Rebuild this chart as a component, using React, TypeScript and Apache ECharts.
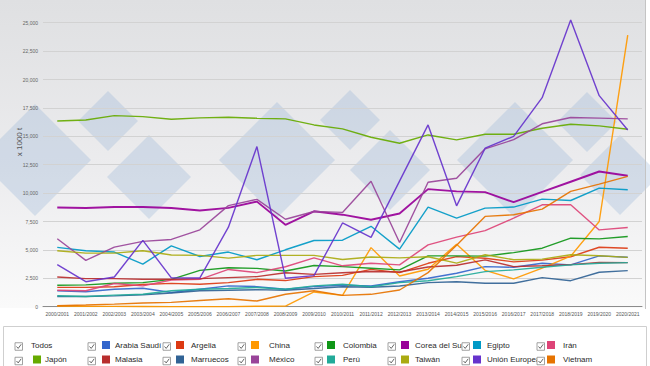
import React, { useEffect, useRef } from "react";
import * as echarts from "echarts";

const categories = [
  "2000/2001", "2001/2002", "2002/2003", "2003/2004", "2004/2005", "2005/2006", "2006/2007",
  "2007/2008", "2008/2009", "2009/2010", "2010/2011", "2011/2012", "2012/2013", "2013/2014",
  "2014/2015", "2015/2016", "2016/2017", "2017/2018", "2018/2019", "2019/2020", "2020/2021",
];

const arabiaSaudi = [1400, 1310, 1540, 1630, 1250, 1540, 1830, 1770, 1540, 1770, 1890, 1820, 2200, 2500, 2940, 3530, 3470, 3820, 3680, 4470, 4350];
const argelia = [1700, 1700, 1750, 1950, 2050, 1980, 2120, 2410, 2300, 2650, 2760, 3290, 3000, 3820, 4410, 4270, 3950, 4100, 4400, 5230, 5150];
const china = [60, 40, 30, 20, 10, 10, 10, 40, 50, 1300, 1000, 5200, 2700, 3300, 5500, 3200, 2450, 3400, 4450, 7500, 23900];
const colombia = [1890, 1920, 2070, 2120, 2410, 3200, 3430, 3370, 3140, 3630, 3530, 3380, 3240, 4470, 4470, 4450, 4760, 5150, 6030, 5970, 6180];
const coreaDelSur = [8730, 8690, 8770, 8770, 8690, 8470, 8700, 9250, 7210, 8400, 8100, 7650, 8200, 10350, 10150, 10090, 9200, 10100, 11000, 11900, 11530];
const egipto = [5220, 4930, 4810, 3750, 5360, 4420, 4810, 4130, 5010, 5830, 5850, 7080, 5070, 8770, 7800, 8680, 8770, 9470, 9350, 10440, 10290];
const iran = [1450, 1400, 2040, 1830, 2350, 2410, 3280, 3000, 3520, 4300, 3600, 3820, 3680, 5440, 6120, 6700, 7790, 8970, 8970, 6760, 6970];
const japon = [16350, 16440, 16820, 16730, 16500, 16620, 16680, 16590, 16530, 16000, 15650, 14920, 14390, 15120, 14680, 15180, 15180, 15710, 16060, 15920, 15620];
const malasia = [2620, 2470, 2470, 2410, 2410, 2470, 2560, 2650, 2990, 2850, 2990, 3100, 3050, 3500, 3650, 4120, 3530, 3600, 3700, 3900, 3880];
const marruecos = [900, 900, 950, 1050, 1200, 1400, 1450, 1500, 1450, 1600, 1760, 1710, 1820, 2120, 2200, 2060, 2060, 2560, 2290, 3030, 3180];
const mexico = [5980, 4080, 5240, 5750, 5920, 6770, 8900, 9450, 7700, 8380, 8300, 11050, 5650, 10950, 11310, 13900, 14700, 16100, 16650, 16600, 16530];
const peru = [960, 900, 1020, 1100, 1400, 1540, 1600, 1690, 1540, 1830, 1980, 1760, 2120, 2290, 2650, 3090, 3240, 3470, 3680, 3820, 3880];
const taiwan = [4930, 4720, 4720, 4930, 4550, 4520, 4280, 4520, 4520, 4520, 4150, 4370, 4300, 4400, 3840, 4570, 4130, 4190, 4570, 4480, 4340];
const unionEuropea = [3710, 2200, 2610, 5840, 2540, 2530, 7000, 14100, 2500, 2740, 7370, 6100, 11050, 16000, 8880, 13950, 15000, 18400, 25240, 18580, 15560];
const vietnam = [90, 150, 230, 320, 380, 550, 700, 500, 1100, 1400, 1000, 1090, 1470, 3000, 5400, 7950, 8090, 8590, 10150, 10790, 11470];

const seriesNames = [
  "Arabia Saudí", "Argelia", "China", "Colombia", "Corea del Sur", "Egipto", "Irán",
  "Japón", "Malasia", "Marruecos", "México", "Perú", "Taiwán", "Unión Europea", "Vietnam",
];
const seriesData = [
  arabiaSaudi, argelia, china, colombia, coreaDelSur, egipto, iran,
  japon, malasia, marruecos, mexico, peru, taiwan, unionEuropea, vietnam,
];
const seriesColors = [
  "#3366cc", "#dc3912", "#ff9900", "#109618", "#990099", "#0099c6", "#dd4477",
  "#66aa00", "#b82e2e", "#316395", "#994499", "#22aa99", "#aaaa11", "#6633cc", "#e67300",
];

// legend layout: two rows of 8 entries, first entry "Todos" has no colour swatch
const legendRow1 = ["Todos", "Arabia Saudí", "Argelia", "China", "Colombia", "Corea del Sur", "Egipto", "Irán"];
const legendRow2 = ["Japón", "Malasia", "Marruecos", "México", "Perú", "Taiwán", "Unión Europea", "Vietnam"];
const colCheckX = [15, 88, 163, 238, 315, 388, 462, 537];
const colSwatchX = [33, 102, 176, 251, 327, 401, 473, 547];
const colTextX = [45, 115, 191, 269, 343, 415, 487, 563];

function buildLegend() {
  const els: any[] = [];
  const rows = [
    { names: legendRow1, y: 345 },
    { names: legendRow2, y: 359.5 },
  ];
  rows.forEach((row) => {
    row.names.forEach((name, c) => {
      const cx = colCheckX[c];
      const cy = row.y + 1.5;
      els.push({
        type: "rect",
        z: 20,
        shape: { x: cx, y: cy - 3.75, width: 7.5, height: 7.5 },
        style: { fill: "#ffffff", stroke: "#8a8a8a", lineWidth: 0.8 },
      });
      els.push({
        type: "polyline",
        z: 21,
        shape: { points: [[cx + 1.5, cy], [cx + 3.2, cy + 1.9], [cx + 6.2, cy - 2.2]] },
        style: { stroke: "#555555", lineWidth: 0.9, fill: null },
      });
      const idx = seriesNames.indexOf(name);
      let tx = colTextX[c];
      if (idx >= 0) {
        els.push({
          type: "rect",
          z: 20,
          shape: { x: colSwatchX[c], y: row.y - 4, width: 8, height: 8 },
          style: { fill: seriesColors[idx] },
        });
      } else {
        tx = 31;
      }
      els.push({
        type: "text",
        z: 20,
        x: tx,
        y: row.y,
        style: {
          text: name,
          fill: "#2a2a2a",
          font: "8px 'Liberation Sans', Arial, sans-serif",
          textAlign: "left",
          textVerticalAlign: "middle",
        },
      });
    });
  });
  return els;
}

function diamond(cx: number, cy: number, r: number) {
  return {
    type: "polygon",
    z: -9,
    silent: true,
    shape: { points: [[cx, cy - r], [cx + r, cy], [cx, cy + r], [cx - r, cy]] },
    style: { fill: "rgba(140,172,212,0.28)" },
  };
}

export default function App() {
  const ref = useRef<HTMLDivElement>(null);
  useEffect(() => {
    const chart = echarts.init(ref.current!, undefined, { renderer: "svg" });
    const option: any = {
      animation: false,
      backgroundColor: "#ffffff",
      textStyle: { fontFamily: "'Liberation Sans', Arial, sans-serif" },
      grid: { left: 43, right: 8, top: 22.7, bottom: 59.3, containLabel: false },
      xAxis: {
        type: "category",
        data: categories,
        boundaryGap: true,
        axisLine: { lineStyle: { color: "#8c8c8c", width: 1 } },
        axisTick: { show: false },
        axisLabel: { interval: 0, fontSize: 5, color: "#555555", margin: 5 },
        splitLine: { show: false },
      },
      yAxis: {
        type: "value",
        min: 0,
        max: 25000,
        interval: 2500,
        axisLine: { show: false },
        axisTick: { show: false },
        axisLabel: {
          fontSize: 5,
          color: "#666666",
          margin: 5,
          formatter: (v: number) => v.toLocaleString("en-US"),
        },
        splitLine: { lineStyle: { color: "#d2d2d2", width: 1 } },
      },
      series: seriesNames.map((name, i) => ({
        type: "line",
        name,
        data: seriesData[i],
        symbol: "none",
        clip: false,
        z: 3,
        lineStyle: { color: seriesColors[i], width: name === "Corea del Sur" ? 1.9 : 1.4, opacity: 0.92 },
        itemStyle: { color: seriesColors[i] },
      })),
      graphic: [
        {
          type: "rect",
          z: -10,
          silent: true,
          shape: { x: 0, y: 0, width: 645, height: 308 },
          style: {
            fill: new echarts.graphic.LinearGradient(0, 0, 0, 1, [
              { offset: 0, color: "#dfe0e2" },
              { offset: 0.55, color: "#ececee" },
              { offset: 1, color: "#fafafa" },
            ]),
          },
        },
        diamond(35, 160, 56),
        diamond(108, 121, 30),
        diamond(149, 177, 42),
        diamond(277, 160, 58),
        diamond(350, 120, 30),
        diamond(390, 170, 40),
        diamond(515, 160, 58),
        diamond(587, 122, 30),
        diamond(620, 175, 40),
        {
          type: "line",
          z: 5,
          silent: true,
          shape: { x1: 645.5, y1: 0, x2: 645.5, y2: 309 },
          style: { stroke: "#c4c4c4", lineWidth: 1 },
        },
        {
          type: "rect",
          z: 5,
          silent: true,
          shape: { x: 3.5, y: 326.5, width: 643, height: 45 },
          style: { fill: "#ffffff", stroke: "#cfcfcf", lineWidth: 1 },
        },
        {
          type: "text",
          z: 10,
          x: 19,
          y: 142,
          rotation: Math.PI / 2,
          style: {
            text: "x 1000 t",
            fill: "#555555",
            font: "8px 'Liberation Sans', Arial, sans-serif",
            textAlign: "center",
            textVerticalAlign: "middle",
          },
        },
        ...buildLegend(),
      ],
    };
    chart.setOption(option);
    return () => chart.dispose();
  }, []);
  return (
    <div
      ref={ref}
      style={{ position: "absolute", left: 0, top: 0, width: 650, height: 366 }}
    />
  );
}
